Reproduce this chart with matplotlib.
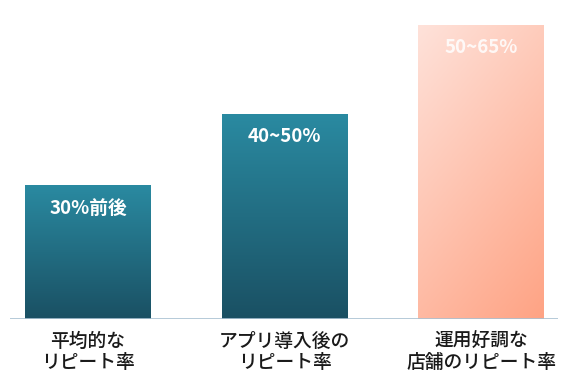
import numpy as np
import matplotlib.pyplot as plt
from matplotlib.colors import LinearSegmentedColormap

plt.rcParams['font.family'] = ['Noto Sans CJK JP', 'DejaVu Sans']

categories = ["平均的な\nリピート率", "アプリ導入後の\nリピート率", "運用好調な\n店舗のリピート率"]
values = [30, 46, 66]
bar_labels = ["30%前後", "40~50%", "50~65%"]

fig = plt.figure(figsize=(5.66, 3.75), dpi=100)
ax = fig.add_axes([10 / 566, 56 / 375, 548 / 566, 294 / 375])

x = np.arange(len(values))
bars = ax.bar(x, values, width=0.641, color="none", edgecolor="none")

teal = LinearSegmentedColormap.from_list("teal", ["#1a5063", "#2a8aa1"])
peach = LinearSegmentedColormap.from_list("peach", ["#fee2da", "#ffa384"])

for i, b in enumerate(bars):
    x0, w, h = b.get_x(), b.get_width(), b.get_height()
    if i < 2:
        grad = np.linspace(0, 1, 256).reshape(-1, 1)
        img = ax.imshow(grad, cmap=teal, origin="lower", aspect="auto",
                        extent=[x0, x0 + w, 0, h], zorder=2)
    else:
        gx, gy = np.meshgrid(np.linspace(0, 1, 100), np.linspace(0, 1, 200))
        grad = 0.35 * gx + 0.65 * (1 - gy)
        img = ax.imshow(grad, cmap=peach, origin="lower", aspect="auto",
                        extent=[x0, x0 + w, 0, h], zorder=2, vmin=0, vmax=1)
    img.set_clip_path(b)
    ax.text(x[i], h - 5.1, bar_labels[i], ha="center", va="center", color="white",
            alpha=0.85 if i == 2 else 1.0, fontsize=13.5, fontweight="bold", zorder=3)

ax.set_xlim(-0.397, 2.392)
ax.set_ylim(0, 66)
ax.axhline(0, color="#a9c1d2", lw=1.2, zorder=4)

for i, c in enumerate(categories):
    ax.text(x[i], -3.0, c, ha="center", va="top", fontsize=13.5, color="#1a1a1a",
            fontweight="medium", linespacing=1.1)

ax.axis("off")
fig.savefig("out.png", dpi=100)
